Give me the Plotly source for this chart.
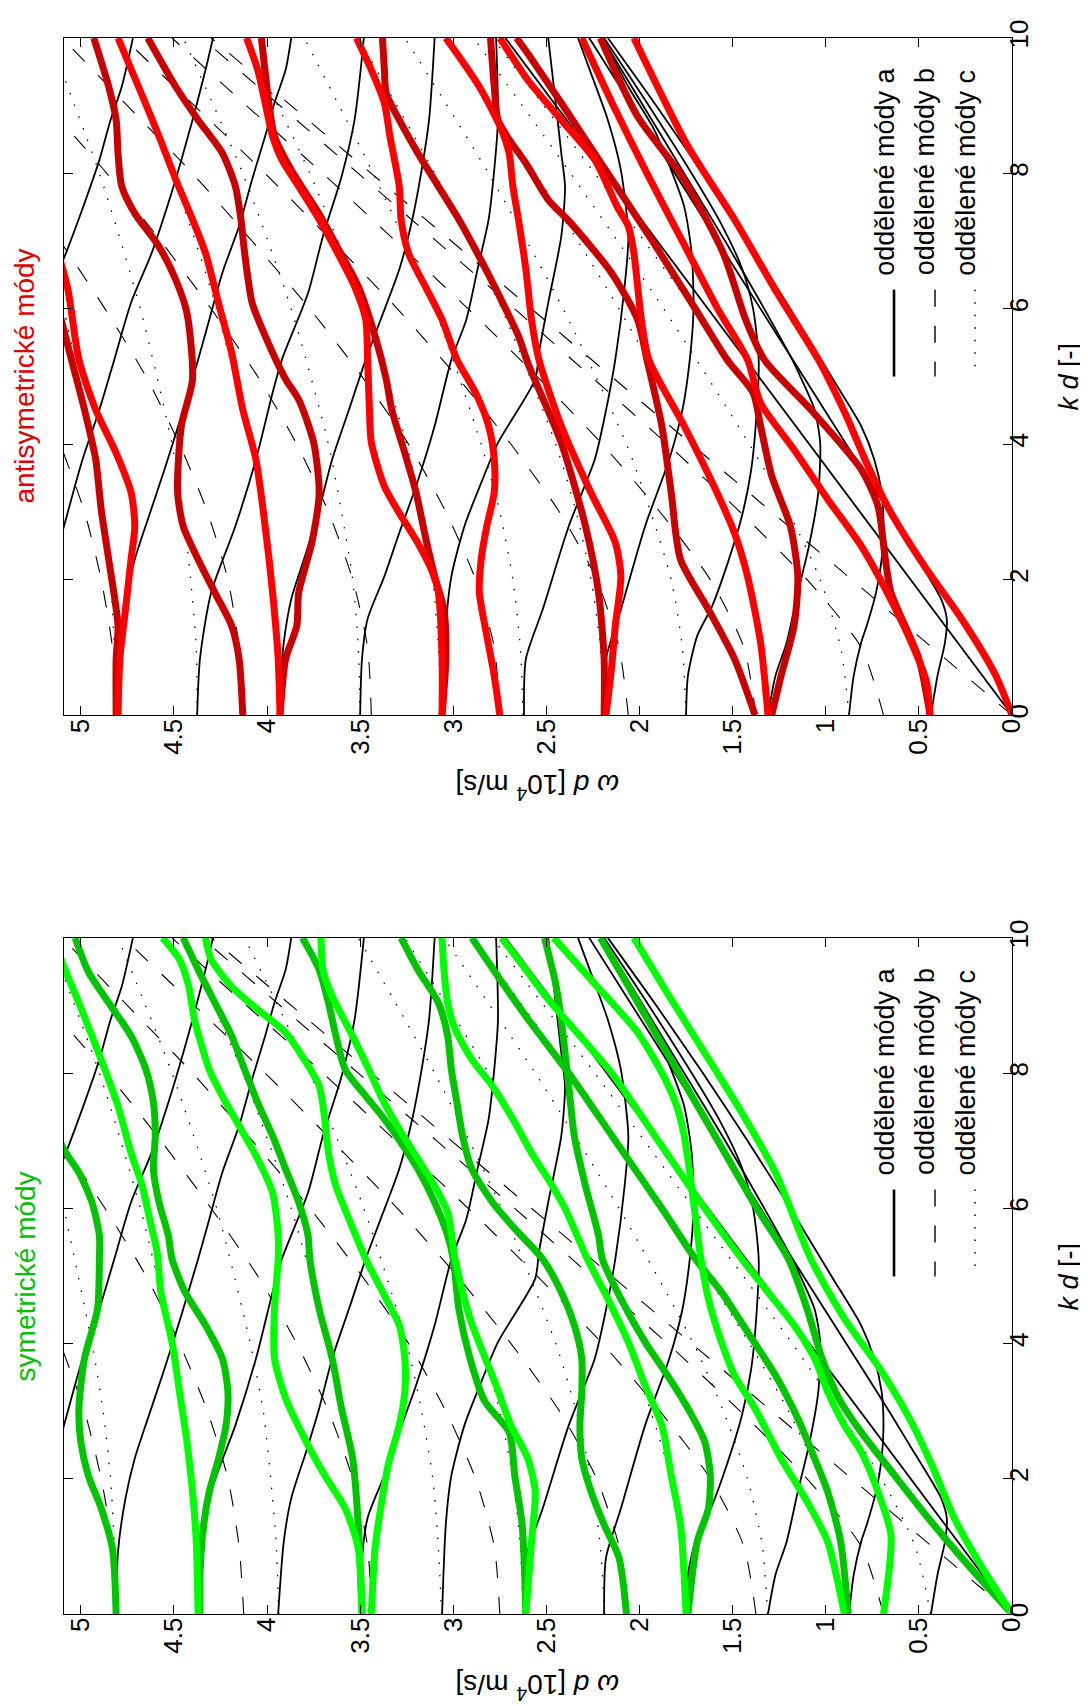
import plotly.graph_objects as go

FONT = "Liberation Sans, Arial, Helvetica, sans-serif"
W, H = 1088, 1706
ML, MR, MT, MB = 56, 84, 28, 100

KD_TICKS = [0, 2, 4, 6, 8, 10]
WD_TICKS = [0, 0.5, 1, 1.5, 2, 2.5, 3, 3.5, 4, 4.5, 5]
WD_TICKTEXT = ["0", "0.5", "1", "1.5", "2", "2.5", "3", "3.5", "4", "4.5", "5"]

# ---------- separated modes (black), points (kd, wd) ----------
MODES_A = [
    [(0, 0), (10, 2.72)],
    [(0, 0.435), (0.58, 0.40), (1.07, 0.36), (1.42, 0.35), (1.71, 0.38), (2.05, 0.45), (2.5, 0.55), (3, 0.66), (4, 0.89), (5, 1.12), (6, 1.35), (7, 1.58), (8, 1.81), (9, 2.04), (10, 2.27)],
    [(0, 0.875), (0.58, 0.85), (1.07, 0.81), (1.32, 0.78), (1.81, 0.73), (2.3, 0.70), (2.79, 0.69), (3.29, 0.70), (3.78, 0.74), (4.27, 0.81), (5, 0.97), (6, 1.19), (7, 1.42), (8, 1.66), (9, 1.91), (10, 2.17)],
    [(0, 1.31), (0.58, 1.27), (1.07, 1.21), (1.81, 1.15), (2.5, 1.09), (3.29, 1.04), (4.02, 1.03), (4.51, 1.06), (4.96, 1.13), (5.25, 1.18), (6, 1.33), (7, 1.54), (8, 1.76), (9, 1.98), (10, 2.20)],
    [(0, 1.75), (0.58, 1.74), (1.17, 1.69), (1.61, 1.61), (2.30, 1.52), (2.94, 1.45), (3.63, 1.40), (4.51, 1.37), (5.25, 1.36), (6, 1.39), (6.6, 1.45), (7.3, 1.57), (8, 1.72), (9, 1.95), (10, 2.19)],
    [(0, 2.19), (0.83, 2.18), (1.56, 2.10), (2.79, 1.97), (3.78, 1.84), (4.5, 1.77), (5.25, 1.73), (6.0, 1.71), (6.82, 1.72), (7.51, 1.76), (8.05, 1.83), (8.64, 1.92), (9.28, 2.06), (10, 2.20)],
    [(0, 2.62), (0.83, 2.61), (1.56, 2.52), (2.79, 2.38), (3.78, 2.24), (4.5, 2.18), (5.25, 2.13), (6.33, 2.08), (7.07, 2.06), (8.05, 2.10), (8.79, 2.17), (9.4, 2.25), (10, 2.33)],
    [(0, 3.06), (1.32, 3.04), (2.05, 3.01), (2.79, 2.94), (3.43, 2.85), (4.02, 2.76), (4.96, 2.56), (5.35, 2.54), (6.09, 2.49), (7.07, 2.42), (7.81, 2.40), (8.30, 2.42), (9.28, 2.46), (10, 2.49)],
    [(0, 3.50), (0.83, 3.49), (1.42, 3.46), (2.05, 3.37), (2.69, 3.29), (3.38, 3.20), (4.27, 3.10), (5.25, 3.01), (5.84, 2.93), (6.58, 2.87), (7.32, 2.81), (8.05, 2.78), (8.79, 2.76), (10, 2.77)],
    [(0, 3.94), (1.07, 3.91), (1.71, 3.87), (2.40, 3.79), (3.04, 3.72), (3.78, 3.65), (4.51, 3.56), (5.25, 3.47), (5.84, 3.39), (6.58, 3.29), (7.32, 3.22), (8.05, 3.17), (8.79, 3.13), (9.53, 3.11), (10, 3.10)],
    [(0, 4.375), (0.83, 4.36), (1.81, 4.30), (2.79, 4.17), (3.77, 4.06), (4.76, 3.97), (5.25, 3.92), (6.23, 3.78), (7.07, 3.70), (7.95, 3.60), (8.79, 3.53), (10, 3.48)],
    [(0, 4.81), (0.92, 4.80), (1.71, 4.76), (2.30, 4.71), (2.89, 4.64), (3.63, 4.55), (4.42, 4.46), (5.25, 4.37), (5.84, 4.31), (6.53, 4.24), (7.22, 4.15), (7.91, 4.08), (8.55, 4.01), (9.04, 3.96), (9.53, 3.90), (10, 3.87)],
    [(0, 5.25), (1.5, 5.21), (2.89, 5.08), (3.78, 4.99), (4.51, 4.90), (5.25, 4.82), (6.09, 4.73), (6.82, 4.62), (7.56, 4.53), (8.2, 4.46), (8.89, 4.39), (9.53, 4.33), (10, 4.29)],
    [(0, 5.69), (3, 5.55), (5, 5.35), (6.82, 5.08), (7.56, 4.98), (8.2, 4.90), (8.79, 4.84), (9.28, 4.78), (10, 4.72)],
]

MODES_B = [
    [(0, 0), (10, 4.3)],
    [(0, 0.69), (1, 0.81), (2, 1.10), (3, 1.46), (4, 1.85), (5, 2.26), (6, 2.67), (7, 3.09), (8, 3.51), (9, 3.93), (10, 4.35)],
    [(0, 1.375), (1, 1.44), (2, 1.62), (3, 1.89), (4, 2.20), (5, 2.55), (6, 2.92), (7, 3.31), (8, 3.70), (9, 4.11), (10, 4.51)],
    [(0, 2.06), (1, 2.11), (2, 2.23), (3, 2.43), (4, 2.69), (5, 2.98), (6, 3.30), (7, 3.65), (8, 4.01), (9, 4.39), (10, 4.77)],
    [(0, 2.75), (1, 2.78), (2, 2.88), (3, 3.04), (4, 3.24), (5, 3.49), (6, 3.77), (7, 4.08), (8, 4.40), (9, 4.75), (10, 5.10)],
    [(0, 3.44), (1, 3.46), (2, 3.54), (3, 3.67), (4, 3.84), (5, 4.05), (6, 4.30), (7, 4.57), (8, 4.86), (9, 5.18)],
    [(0, 4.125), (1, 4.15), (2, 4.21), (3, 4.32), (4, 4.47), (5, 4.65), (6, 4.87), (7, 5.11)],
    [(0, 4.81), (1, 4.83), (2, 4.89), (3, 4.98), (4, 5.11)],
]

MODES_C = [
    [(0, 0.4375), (1, 0.52), (2, 0.70), (3, 0.93), (4, 1.18), (6, 1.71), (8, 2.24), (10, 2.79)],
    [(0, 0.875), (1, 0.92), (2, 1.03), (3, 1.20), (4, 1.41), (6, 1.87), (8, 2.37), (10, 2.89)],
    [(0, 1.3125), (1, 1.34), (2, 1.42), (3, 1.55), (4, 1.71), (6, 2.11), (8, 2.56), (10, 3.05)],
    [(0, 1.75), (1, 1.77), (2, 1.83), (3, 1.94), (4, 2.07), (6, 2.41), (8, 2.81), (10, 3.26)],
    [(0, 2.1875), (1, 2.21), (2, 2.26), (3, 2.34), (4, 2.45), (6, 2.74), (8, 3.10), (10, 3.51)],
    [(0, 2.625), (1, 2.64), (2, 2.68), (3, 2.75), (4, 2.85), (6, 3.10), (8, 3.43), (10, 3.80)],
    [(0, 3.0625), (1, 3.08), (2, 3.11), (3, 3.17), (4, 3.25), (6, 3.48), (8, 3.77), (10, 4.12)],
    [(0, 3.5), (1, 3.51), (2, 3.54), (3, 3.60), (4, 3.67), (6, 3.87), (8, 4.13), (10, 4.45)],
    [(0, 3.9375), (1, 3.95), (2, 3.98), (3, 4.02), (4, 4.09), (6, 4.27), (8, 4.51), (10, 4.80)],
    [(0, 4.375), (1, 4.38), (2, 4.41), (3, 4.45), (4, 4.51), (6, 4.68), (8, 4.90), (10, 5.17)],
    [(0, 4.8125), (1, 4.82), (2, 4.84), (3, 4.88), (4, 4.94), (6, 5.09)],
]

# ---------- coupled modes, antisymmetric panel ----------
ANTI_BRIGHT = [
    [(0, 0), (0.6, 0.09), (1.42, 0.27), (2.2, 0.47), (3.04, 0.66), (3.78, 0.79), (4.42, 0.89), (5.25, 1.04), (6.23, 1.26), (7.32, 1.49), (8.4, 1.74), (10, 2.03)],
    [(0, 0.44), (0.5, 0.46), (1.07, 0.54), (1.81, 0.67), (2.5, 0.81), (3.19, 0.99), (3.92, 1.17), (4.61, 1.35), (5.25, 1.42), (6, 1.58), (7, 1.77), (8, 1.96), (9, 2.14), (10, 2.31)],
    [(0, 1.31), (1.07, 1.35), (2.05, 1.42), (2.69, 1.49), (3.38, 1.60), (4.27, 1.76), (5.25, 1.95), (5.84, 1.99), (6.33, 2.01), (6.82, 2.03), (7.22, 2.06), (7.51, 2.12), (8.2, 2.24), (8.79, 2.42), (9.38, 2.60), (10, 2.75)],
    [(0, 2.18), (0.7, 2.15), (1.32, 2.13), (2.05, 2.10), (2.55, 2.13), (3.28, 2.26), (4.27, 2.42), (5.25, 2.54), (5.84, 2.58), (6.58, 2.61), (7.32, 2.65), (7.81, 2.68), (8.30, 2.70), (8.64, 2.74), (9.28, 2.86), (10, 3.04)],
    [(0, 2.75), (0.58, 2.78), (1.32, 2.83), (1.81, 2.86), (2.30, 2.85), (2.79, 2.82), (3.29, 2.78), (3.78, 2.78), (4.27, 2.81), (4.76, 2.88), (5.25, 2.98), (5.84, 3.06), (6.33, 3.15), (6.82, 3.24), (7.32, 3.28), (7.81, 3.29), (8.55, 3.34), (9.04, 3.37), (9.53, 3.44), (10, 3.52)],
    [(0, 3.06), (0.83, 3.06), (1.81, 3.08), (2.10, 3.11), (2.54, 3.19), (2.94, 3.28), (3.38, 3.37), (4.03, 3.44), (4.51, 3.45), (5.25, 3.46), (5.84, 3.47), (6.33, 3.53), (6.82, 3.62), (7.32, 3.72), (7.81, 3.83), (8.2, 3.92), (8.55, 3.97), (9.04, 4.01), (9.53, 4.05), (10, 4.11)],
    [(0, 3.93), (0.83, 3.94), (1.81, 3.97), (2.79, 4.01), (3.78, 4.06), (4.51, 4.13), (5.35, 4.19), (6.08, 4.26), (6.82, 4.33), (7.32, 4.40), (7.91, 4.49), (8.55, 4.58), (9.28, 4.69), (10, 4.80)],
    [(0, 4.80), (0.83, 4.79), (1.56, 4.76), (2.30, 4.73), (2.79, 4.71), (3.29, 4.73), (3.87, 4.81), (4.51, 4.92), (5.25, 5.01), (6.3, 5.07), (7, 5.14)],
]
ANTI_DARK = [
    [(0, 0.44), (0.83, 0.50), (1.81, 0.65), (2.30, 0.68), (3.09, 0.72), (3.63, 0.81), (4.51, 1.08), (5.25, 1.33), (5.84, 1.43), (6.82, 1.55), (7.95, 1.77), (8.84, 2.01), (10, 2.21)],
    [(0, 1.29), (0.58, 1.24), (1.32, 1.17), (2.05, 1.15), (2.79, 1.19), (3.53, 1.29), (4.27, 1.35), (4.76, 1.39), (5.25, 1.53), (6, 1.70), (7, 1.93), (8, 2.17), (9, 2.41), (9.77, 2.60), (10, 2.66)],
    [(0, 1.38), (0.83, 1.49), (1.56, 1.63), (2.30, 1.78), (3.29, 1.83), (4.27, 1.88), (5.25, 1.96), (5.84, 2.01), (6.53, 2.15), (7.27, 2.37), (7.61, 2.49), (8.15, 2.61), (8.5, 2.70), (8.79, 2.76), (9.28, 2.78), (10, 2.80)],
    [(0, 2.19), (0.83, 2.19), (1.81, 2.22), (2.79, 2.29), (4.02, 2.42), (5.2, 2.60), (5.6, 2.65), (6.23, 2.76), (6.82, 2.87), (7.32, 2.97), (7.81, 3.08), (8.30, 3.19), (8.79, 3.29), (9.18, 3.36), (9.53, 3.37), (10, 3.38)],
    [(0, 3.06), (0.83, 3.04), (1.56, 3.05), (2.05, 3.10), (2.64, 3.15), (3.29, 3.20), (3.87, 3.26), (4.51, 3.33), (4.96, 3.36), (5.6, 3.42), (6.33, 3.51), (6.9, 3.62), (7.4, 3.72), (8.05, 3.87), (8.55, 3.96), (9.04, 3.99), (10, 4.03)],
    [(0, 3.93), (0.83, 3.90), (1.32, 3.84), (1.81, 3.83), (2.54, 3.76), (3.29, 3.72), (4.03, 3.75), (4.66, 3.83), (4.96, 3.90), (5.6, 4.01), (6.09, 4.08), (6.82, 4.12), (7.32, 4.14), (7.81, 4.17), (8.30, 4.24), (8.79, 4.37), (9.28, 4.49), (10, 4.64)],
    [(0, 4.13), (0.83, 4.15), (1.32, 4.19), (1.81, 4.28), (2.30, 4.37), (2.79, 4.45), (3.29, 4.48), (4.27, 4.46), (4.96, 4.40), (5.94, 4.43), (6.43, 4.49), (6.92, 4.58), (7.41, 4.71), (7.81, 4.78), (8.30, 4.80), (8.79, 4.81), (9.28, 4.85), (10, 4.93)],
    [(0, 4.81), (0.83, 4.81), (1.32, 4.80), (2.30, 4.85), (3.03, 4.89), (3.78, 4.92), (4.51, 4.98), (5.25, 5.05), (6, 5.12)],
]

# ---------- coupled modes, symmetric panel ----------
SYM_BRIGHT = [
    [(0, 0), (0.73, 0.17), (1.42, 0.31), (2.2, 0.43), (2.89, 0.55), (3.63, 0.71), (4.37, 0.90), (5.25, 1.08), (6.53, 1.27), (7.41, 1.45), (8.3, 1.65), (9.18, 1.85), (10, 2.03)],
    [(0, 0.69), (1.17, 0.65), (1.81, 0.72), (2.40, 0.81), (2.79, 0.90), (3.29, 0.99), (3.78, 1.06), (4.27, 1.17), (4.76, 1.31), (5.25, 1.45), (6, 1.65), (7, 1.90), (8, 2.15), (9.09, 2.49), (9.53, 2.61), (10, 2.74)],
    [(0, 0.90), (1.07, 0.99), (1.66, 1.10), (2.30, 1.24), (3.04, 1.38), (3.53, 1.49), (4.02, 1.56), (4.66, 1.63), (5.25, 1.67), (6.09, 1.71), (6.53, 1.73), (7.07, 1.76), (7.51, 1.80), (7.9, 1.86), (8.6, 2.01), (9.32, 2.24), (10, 2.46)],
    [(0, 1.75), (1.32, 1.78), (2.05, 1.83), (2.79, 1.88), (3.38, 1.97), (4.02, 2.06), (4.66, 2.17), (5.25, 2.28), (6, 2.4), (6.43, 2.49), (6.82, 2.58), (7.32, 2.68), (7.81, 2.79), (8.2, 2.90), (8.65, 2.99), (9.04, 3.03), (9.53, 3.05), (10, 3.06)],
    [(0, 2.61), (1.07, 2.58), (1.81, 2.56), (2.30, 2.60), (2.79, 2.69), (3.38, 2.77), (4.37, 2.91), (5.25, 2.99), (5.94, 3.03), (6.33, 3.10), (6.73, 3.19), (7.17, 3.29), (7.61, 3.38), (8.15, 3.47), (8.65, 3.56), (9.14, 3.65), (9.53, 3.70), (10, 3.71)],
    [(0, 3.44), (0.97, 3.42), (1.56, 3.39), (2.20, 3.35), (2.79, 3.29), (3.29, 3.26), (3.78, 3.26), (4.27, 3.29), (4.66, 3.36), (5.25, 3.47), (5.84, 3.56), (6.33, 3.63), (6.82, 3.67), (7.32, 3.69), (7.81, 3.72), (8.2, 3.80), (8.6, 3.90), (8.94, 4.05), (9.28, 4.19), (9.68, 4.30), (10, 4.33)],
    [(0, 3.49), (0.97, 3.51), (1.56, 3.58), (2.05, 3.69), (2.55, 3.79), (3.19, 3.90), (3.78, 3.96), (4.51, 3.96), (5.25, 3.94), (5.6, 3.94), (6.23, 3.97), (6.73, 4.05), (7.22, 4.15), (7.66, 4.24), (8.05, 4.31), (8.40, 4.35), (8.79, 4.39), (9.28, 4.42), (9.68, 4.47), (10, 4.56)],
    [(0, 4.37), (1.07, 4.38), (1.81, 4.40), (2.55, 4.43), (3.29, 4.47), (4.02, 4.51), (4.76, 4.57), (5.35, 4.59), (5.84, 4.63), (6.33, 4.67), (6.82, 4.73), (7.51, 4.80), (8.05, 4.87), (8.55, 4.94), (9.04, 5.01), (9.5, 5.08), (10, 5.15)],
]
SYM_DARK = [
    [(0, 0), (0.83, 0.27), (1.42, 0.45), (2.05, 0.63), (2.69, 0.81), (3.19, 0.93), (3.78, 1.02), (4.51, 1.10), (5.25, 1.20), (6, 1.37), (7, 1.58), (8, 1.79), (9, 2.00), (10, 2.21)],
    [(0, 0.88), (1.07, 0.92), (1.81, 0.99), (2.30, 1.06), (2.89, 1.15), (3.53, 1.27), (4.17, 1.42), (4.76, 1.56), (5.25, 1.70), (6, 1.88), (7, 2.13), (8, 2.38), (8.4, 2.49), (8.84, 2.61), (9.43, 2.76), (10, 2.90)],
    [(0, 1.74), (1.07, 1.69), (1.56, 1.63), (2.05, 1.62), (2.55, 1.65), (3.04, 1.74), (3.53, 1.85), (4.02, 1.97), (4.66, 2.10), (5.25, 2.20), (5.6, 2.22), (6.33, 2.29), (7.07, 2.35), (7.81, 2.38), (8.3, 2.40), (8.79, 2.42), (9.32, 2.45), (10, 2.51)],
    [(0, 2.07), (0.83, 2.11), (1.32, 2.19), (1.81, 2.26), (2.30, 2.31), (2.79, 2.32), (3.29, 2.31), (3.78, 2.31), (4.27, 2.35), (4.76, 2.42), (5.25, 2.52), (5.7, 2.67), (6.09, 2.79), (6.58, 2.90), (7.07, 2.95), (7.56, 2.98), (8.05, 3.01), (8.55, 3.03), (9.04, 3.08), (9.53, 3.19), (10, 3.28)],
    [(0, 2.61), (1.32, 2.63), (2.05, 2.67), (2.69, 2.70), (3.14, 2.83), (3.78, 2.91), (4.51, 2.97), (5.25, 3.00), (5.6, 3.03), (6.09, 3.10), (6.58, 3.19), (6.97, 3.28), (7.32, 3.37), (7.66, 3.47), (8.05, 3.58), (8.55, 3.63), (9.04, 3.67), (9.53, 3.72), (10, 3.81)],
    [(0, 3.49), (1.32, 3.51), (2.30, 3.54), (3.04, 3.60), (3.78, 3.65), (4.51, 3.72), (5.25, 3.77), (5.6, 3.78), (6.09, 3.83), (6.58, 3.90), (7.07, 3.97), (7.56, 4.05), (8.05, 4.12), (8.55, 4.19), (9.04, 4.28), (9.53, 4.37), (10, 4.45)],
    [(0, 4.36), (0.58, 4.36), (1.32, 4.34), (1.81, 4.31), (2.30, 4.26), (2.79, 4.22), (3.29, 4.21), (3.78, 4.24), (4.27, 4.33), (4.76, 4.44), (5.25, 4.51), (5.6, 4.53), (6.09, 4.58), (6.58, 4.61), (7.07, 4.60), (7.56, 4.61), (8.05, 4.65), (8.55, 4.73), (9.04, 4.85), (9.5, 4.96), (10, 5.03)],
    [(0, 4.81), (0.97, 4.83), (1.56, 4.89), (2.05, 4.96), (2.55, 5.00), (3.04, 5.01), (3.78, 4.98), (4.51, 4.91), (5.25, 4.90), (5.6, 4.90), (6.09, 4.94), (6.53, 5.01), (6.82, 5.08), (7.2, 5.15)],
]

RED_BRIGHT, RED_DARK = "#FF0000", "#C80000"
GREEN_BRIGHT, GREEN_DARK = "#00FF00", "#00C400"


def px(X):
    return (X - ML) / (W - ML - MR)


def py(Y):
    return (H - MB - Y) / (H - MT - MB)


fig = go.Figure()


def add_curves(curves, color, width, dash, xa, ya):
    for pts in curves:
        fig.add_trace(go.Scatter(
            x=[p[1] for p in pts], y=[p[0] for p in pts], mode="lines",
            line=dict(color=color, width=width, dash=dash, shape="spline", smoothing=0.7),
            xaxis=xa, yaxis=ya, hoverinfo="skip", showlegend=False))


panels = [("x", "y", ANTI_BRIGHT, ANTI_DARK, RED_BRIGHT, RED_DARK),
          ("x2", "y2", SYM_BRIGHT, SYM_DARK, GREEN_BRIGHT, GREEN_DARK)]
for xa, ya, bright, dark, cb, cd in panels:
    add_curves(MODES_C, "black", 1.3, "1.5px,11px", xa, ya)
    add_curves(MODES_B, "black", 1.1, "17px,19px", xa, ya)
    add_curves(MODES_A, "black", 1.8, "solid", xa, ya)
    add_curves(dark, cd, 7, "solid", xa, ya)
    add_curves(bright, cb, 7, "solid", xa, ya)

tickfont = dict(family=FONT, size=26, color="black")
ax_common = dict(showline=True, linecolor="black", linewidth=1.3, mirror="ticks",
                 ticks="inside", ticklen=9, tickwidth=1.2, tickcolor="black",
                 showgrid=False, zeroline=False, tickfont=tickfont, fixedrange=True)
xcfg = dict(range=[5.09, 0], tickmode="array", tickvals=WD_TICKS, ticktext=WD_TICKTEXT,
            tickangle=-90, domain=[0, 1], ticklabelstandoff=-8, **ax_common)
ycfg = dict(range=[0, 10], tickmode="array", tickvals=KD_TICKS, side="right",
            tickangle=-90, ticklabelstandoff=-16, **ax_common)

top_dom = [py(706), py(28)]
bot_dom = [py(1606), py(929)]

fig.update_layout(
    width=W, height=H, margin=dict(l=ML, r=MR, t=MT, b=MB),
    paper_bgcolor="white", plot_bgcolor="white", showlegend=False,
    xaxis=dict(anchor="y", **xcfg),
    yaxis=dict(anchor="x", domain=top_dom, **ycfg),
    xaxis2=dict(anchor="y2", **xcfg),
    yaxis2=dict(anchor="x2", domain=bot_dom, **ycfg),
)

ann = []
shapes = []
for off, title, tcolor in [(0, "antisymetrické módy", "#E00000"), (901, "symetrické módy", "#00C000")]:
    ann.append(dict(x=px(17), y=py(367 + off), xref="paper", yref="paper", text=title,
                    textangle=-90, showarrow=False, xanchor="center", yanchor="middle",
                    font=dict(family=FONT, size=28, color=tcolor)))
    ann.append(dict(x=px(530), y=py(778 + off), xref="paper", yref="paper",
                    text="<i>ω d</i> [10<sup>4</sup> m/s]", textangle=180, showarrow=False,
                    xanchor="center", yanchor="middle", font=dict(family=FONT, size=28, color="black")))
    ann.append(dict(x=px(1061), y=py(367 + off), xref="paper", yref="paper",
                    text="<i>k d</i> [-]", textangle=-90, showarrow=False,
                    xanchor="center", yanchor="middle", font=dict(family=FONT, size=27, color="black")))
    for X, lab in [(877, "oddělené módy a"), (917, "oddělené módy b"), (958, "oddělené módy c")]:
        ann.append(dict(x=px(X), y=py(268 + off), xref="paper", yref="paper", text=lab,
                        textangle=-90, showarrow=False, xanchor="center", yanchor="bottom",
                        font=dict(family=FONT, size=27, color="black")))
    for X, dash, wdt in [(886, "solid", 2.6), (927, "17px,19px", 1.4), (967, "1.5px,11px", 1.5)]:
        shapes.append(dict(type="line", xref="paper", yref="paper", x0=px(X), x1=px(X),
                           y0=py(280 + off), y1=py(367 + off),
                           line=dict(color="black", width=wdt, dash=dash)))

fig.update_layout(annotations=ann, shapes=shapes)
fig.write_html("out.html")
